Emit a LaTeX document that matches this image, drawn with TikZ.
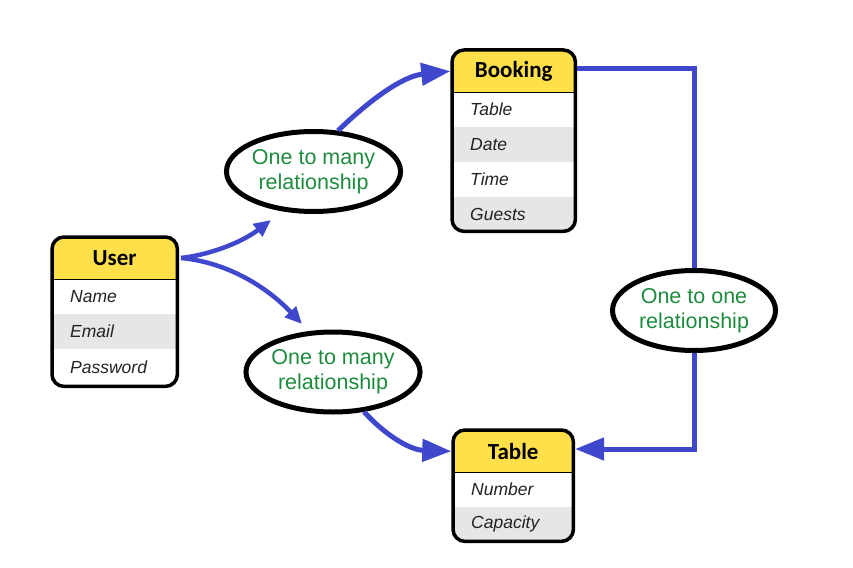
\documentclass[tikz,border=0pt]{standalone}
\usepackage{fontspec}
\setmainfont{Liberation Sans}
\newfontfamily\hdrfont{Carlito}
\usetikzlibrary{arrows.meta,shapes.geometric,fit}
\definecolor{hdryellow}{HTML}{FFE04A}
\definecolor{rowgray}{HTML}{E6E6E6}
\definecolor{arrblue}{HTML}{3F48CC}
\definecolor{relgreen}{HTML}{1E8C3E}
\definecolor{fieldtext}{HTML}{222222}
\begin{document}
\begin{tikzpicture}[x=1pt,y=-1pt,
  hdrcell/.style={fill=hdryellow, anchor=north west, inner sep=0pt, minimum height=42pt,
    font=\hdrfont\bfseries\fontsize{23}{26}\selectfont},
  rowcell/.style={anchor=north west, inner ysep=0pt, inner xsep=18pt, minimum height=35pt,
    align=left, text=fieldtext, font=\fontsize{17.5}{20}\selectfont\itshape},
  hdrline/.style={draw=black, line width=1.3pt},
  boxborder/.style={draw=black, line width=3.5pt, rounded corners=12pt, inner sep=0pt},
  relation/.style={ellipse, draw=black, line width=5pt, fill=white, minimum width=163pt,
    minimum height=80pt, inner sep=0pt, align=center, text=relgreen,
    font=\fontsize{21.5}{25}\selectfont},
  flow/.style={draw=arrblue, line width=5pt, -{Triangle[length=29pt,width=22pt]}},
  flowsmall/.style={draw=arrblue, line width=4.5pt, -{Triangle[length=17pt,width=15pt]}}]
\useasboundingbox (0,0) rectangle (853,567);
\fill[white] (0,0) rectangle (853,567);

% ---------- User ----------
\begin{scope}
\clip[rounded corners=12pt] (52,237) rectangle (177,386);
\node[hdrcell, minimum width=125pt] (userh) at (52,237) {User};
\node[rowcell, fill=white, text width=89pt] (user1) at (52,279) {Name};
\node[rowcell, fill=rowgray, text width=89pt] (user2) at (52,314) {Email};
\node[rowcell, fill=white, text width=89pt, minimum height=37pt] (user3) at (52,349) {Password};
\draw[hdrline] (userh.south west) -- (userh.south east);
\end{scope}
\node[boxborder, fit=(userh)(user3)] (user) {};

% ---------- Booking ----------
\begin{scope}
\clip[rounded corners=12pt] (452,50) rectangle (575,231);
\node[hdrcell, minimum width=123pt] (bookh) at (452,50) {Booking};
\node[rowcell, fill=white, text width=87pt] (book1) at (452,92) {Table};
\node[rowcell, fill=rowgray, text width=87pt] (book2) at (452,127) {Date};
\node[rowcell, fill=white, text width=87pt] (book3) at (452,162) {Time};
\node[rowcell, fill=rowgray, text width=87pt, minimum height=34pt] (book4) at (452,197) {Guests};
\draw[hdrline] (bookh.south west) -- (bookh.south east);
\end{scope}
\node[boxborder, fit=(bookh)(book4)] (booking) {};

% ---------- Table ----------
\begin{scope}
\clip[rounded corners=12pt] (453,430) rectangle (573,541);
\node[hdrcell, minimum width=120pt] (tableh) at (453,430) {Table};
\node[rowcell, fill=white, text width=84pt] (table1) at (453,472) {Number};
\node[rowcell, fill=rowgray, text width=84pt, minimum height=34pt] (table2) at (453,507) {Capacity};
\draw[hdrline] (tableh.south west) -- (tableh.south east);
\end{scope}
\node[boxborder, fit=(tableh)(table2)] (table) {};

% ---------- Relationships ----------
\node[relation] (rel1) at (313.5,171.5) {One to many\\relationship};
\node[relation] (rel2) at (333,372) {One to many\\relationship};
\node[relation] (rel3) at (694,310.5) {One to one\\relationship};

% ---------- Connectors ----------
\coordinate (userout) at (181,258);
\coordinate (upend) at (271,220);
\coordinate (downend) at (302,324);
\draw[flowsmall] (userout) .. controls (215,254) and (245,240) .. (upend);
\draw[flowsmall] (userout) .. controls (225,262) and (265,285) .. (downend);
\draw[flow] (rel1.59) .. controls (375,95) and (405,76) .. (booking.west |- bookh.east);
\draw[flow] (rel2.-52) .. controls (385,435) and (410,450) .. (table.west |- tableh.east);
\draw[draw=arrblue, line width=5pt] (booking.east |- 0,69) -| (rel3.north);
\draw[flow] (rel3.south) |- (table.east |- 0,449);
\end{tikzpicture}
\end{document}
